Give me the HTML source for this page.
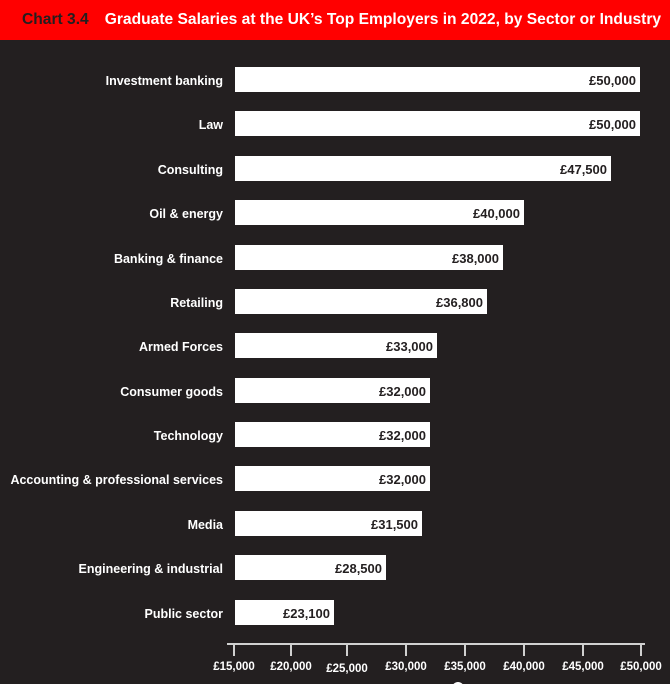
<!DOCTYPE html>
<html><head><meta charset="utf-8"><style>
body{margin:0;width:670px;height:684px;background:#231f20;overflow:hidden;font-family:"Liberation Sans",sans-serif;position:relative}
.hd{position:absolute;left:0;top:0;width:670px;height:40px;background:#f00;color:#fff;font-weight:bold;font-size:15.6px;line-height:40px;white-space:nowrap}
.hd b{color:#231f20;margin-left:22px;margin-right:16px}
.l{position:absolute;right:447px;color:#fff;font-size:12.5px;font-weight:bold;line-height:28px;white-space:nowrap}
.b{position:absolute;left:235px;height:25px;background:#fff;color:#231f20;font-weight:bold;font-size:13px;line-height:27px;text-align:right;box-sizing:border-box;padding-right:4px}
.t{position:absolute;top:661px;color:#fff;font-size:11.5px;font-weight:bold;width:60px;text-align:center;margin-left:-30px}
</style></head><body>
<div class="hd"><b>Chart 3.4</b>Graduate Salaries at the UK’s Top Employers in 2022, by Sector or Industry</div>
<div class="l" style="top:67px">Investment banking</div><div class="b" style="top:67px;width:405px">£50,000</div>
<div class="l" style="top:111px">Law</div><div class="b" style="top:111px;width:405px">£50,000</div>
<div class="l" style="top:156px">Consulting</div><div class="b" style="top:156px;width:376px">£47,500</div>
<div class="l" style="top:200px">Oil &amp; energy</div><div class="b" style="top:200px;width:289px">£40,000</div>
<div class="l" style="top:245px">Banking &amp; finance</div><div class="b" style="top:245px;width:268px">£38,000</div>
<div class="l" style="top:289px">Retailing</div><div class="b" style="top:289px;width:252px">£36,800</div>
<div class="l" style="top:333px">Armed Forces</div><div class="b" style="top:333px;width:202px">£33,000</div>
<div class="l" style="top:378px">Consumer goods</div><div class="b" style="top:378px;width:195px">£32,000</div>
<div class="l" style="top:422px">Technology</div><div class="b" style="top:422px;width:195px">£32,000</div>
<div class="l" style="top:466px">Accounting &amp; professional services</div><div class="b" style="top:466px;width:195px">£32,000</div>
<div class="l" style="top:511px">Media</div><div class="b" style="top:511px;width:187px">£31,500</div>
<div class="l" style="top:555px">Engineering &amp; industrial</div><div class="b" style="top:555px;width:151px">£28,500</div>
<div class="l" style="top:600px">Public sector</div><div class="b" style="top:600px;width:99px">£23,100</div>
<svg style="position:absolute;left:0;top:0" width="670" height="684">
<g stroke="#d0d0d0" stroke-width="2"><line x1="227" y1="644" x2="645" y2="644"/>
<line x1="234" y1="644" x2="234" y2="656"/><line x1="291" y1="644" x2="291" y2="656"/><line x1="347" y1="644" x2="347" y2="656"/><line x1="406" y1="644" x2="406" y2="656"/><line x1="465" y1="644" x2="465" y2="656"/><line x1="524" y1="644" x2="524" y2="656"/><line x1="583" y1="644" x2="583" y2="656"/><line x1="641" y1="644" x2="641" y2="656"/></g>
<circle cx="458" cy="688" r="6" fill="#fff"/>
</svg>
<div class="t" style="left:234px">£15,000</div><div class="t" style="left:291px">£20,000</div><div class="t" style="left:347px;top:663px">£25,000</div><div class="t" style="left:406px">£30,000</div><div class="t" style="left:465px">£35,000</div><div class="t" style="left:524px">£40,000</div><div class="t" style="left:583px">£45,000</div><div class="t" style="left:641px">£50,000</div>
</body></html>
